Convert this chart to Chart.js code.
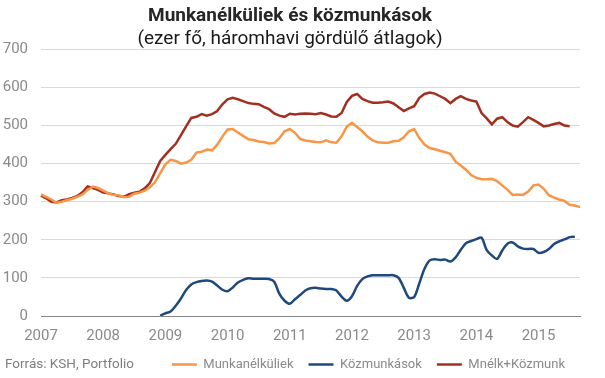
<!DOCTYPE html>
<html>
<head>
<meta charset="utf-8">
<script src="https://cdn.jsdelivr.net/npm/chart.js@4/dist/chart.umd.min.js"></script>
<style>
  html, body { margin: 0; padding: 0; background: #ffffff; }
  #wrap { width: 605px; height: 378px; position: relative; }
</style>
</head>
<body>
<div id="wrap"><canvas id="c" width="605" height="378"></canvas></div>
<script>
const titleText = 'Munkanélküliek és közmunkások';
const subtitleText = '(ezer fő, háromhavi gördülő átlagok)';
const sourceText = 'Forrás: KSH, Portfolio';

const years = ['2007', '2008', '2009', '2010', '2011', '2012', '2013', '2014', '2015'];
const monthsInLastYear = 9;

const seriesNames = ['Munkanélküliek', 'Közmunkások', 'Mnélk+Közmunk'];

const unemployed = [
  319, 313, 306, 297, 300, 304, 308, 313, 319, 331,
  340, 336, 329, 322, 318, 317, 312, 313, 321, 324,
  329, 338, 351, 375, 398, 410, 407, 400, 403, 410,
  429, 431, 437, 435, 450, 471, 490, 491, 482, 473,
  464, 462, 458, 457, 453, 454, 467, 485, 491, 481,
  465, 461, 459, 457, 456, 461, 456, 455, 472, 497,
  507, 496, 485, 471, 461, 456, 455, 455, 459, 460,
  469, 485, 491, 467, 450, 441, 438, 434, 430, 426,
  405, 395, 384, 370, 363, 359, 359, 360, 354, 343,
  332, 318, 319, 318, 327, 343, 345, 334, 317, 311,
  306, 302, 292, 290, 286
];

const publicWorkers = [
  null, null, null, null, null, null, null, null, null, null,
  null, null, null, null, null, null, null, null, null, null,
  null, null, null, 1, 7, 12, 27, 46, 68, 83,
  89, 92, 93, 90, 80, 69, 65, 75, 88, 95,
  99, 98, 98, 98, 97, 90, 58, 40, 32, 44,
  55, 67, 73, 74, 72, 71, 71, 67, 51, 40,
  52, 79, 97, 104, 107, 107, 107, 107, 107, 100,
  74, 48, 50, 86, 124, 146, 149, 147, 148, 143,
  154, 174, 191, 197, 202, 206, 173, 159, 150, 172,
  190, 193, 183, 177, 176, 176, 166, 168, 176, 189,
  196, 201, 207, 208, null
];

const combined = [
  316, 309, 300, 298, 304, 306, 310, 315, 325, 340,
  336, 331, 324, 322, 319, 315, 313, 320, 324, 326,
  335, 349, 378, 407, 423, 438, 452, 475, 498, 520,
  523, 530, 526, 530, 538, 556, 569, 573, 569, 564,
  559, 557, 556, 549, 543, 532, 526, 523, 531, 529,
  531, 532, 531, 530, 533, 529, 524, 523, 533, 562,
  578, 583, 570, 564, 560, 560, 561, 563, 558, 548,
  538, 545, 551, 573, 583, 587, 584, 577, 570, 559,
  570, 577, 570, 566, 563, 533, 519, 503, 518, 522,
  509, 500, 497, 509, 522, 515, 507, 498, 500, 504,
  507, 500, 498, null, null
];

const yMin = 0, yMax = 700, yStep = 100;

const colors = { unemployed: '#F79646', publicWorkers: '#1F497D', combined: '#A0301F' };

// monthly categories built from the year list
const months = [];
years.forEach((y, k) => {
  const n = k === years.length - 1 ? monthsInLastYear : 12;
  for (let m = 1; m <= n; m++) months.push(y + '-' + String(m).padStart(2, '0'));
});

Chart.defaults.font.family = 'Roboto';

const sourceNote = {
  id: 'sourceNote',
  afterDraw(chart) {
    const ctx = chart.ctx;
    const lg = chart.legend;
    ctx.save();
    ctx.font = '13.5px Roboto';
    ctx.fillStyle = '#7F7F7F';
    ctx.textAlign = 'left';
    ctx.textBaseline = 'middle';
    const y = lg ? lg.top + lg.options.labels.padding + 6.5 : 364;
    ctx.fillText(sourceText, 5, y);
    ctx.restore();
  }
};

new Chart(document.getElementById('c'), {
  type: 'line',
  data: {
    labels: months,
    datasets: [
      { label: seriesNames[0], data: unemployed, borderColor: colors.unemployed, backgroundColor: colors.unemployed,
        borderWidth: 2.5, pointRadius: 0, tension: 0 },
      { label: seriesNames[1], data: publicWorkers, borderColor: colors.publicWorkers, backgroundColor: colors.publicWorkers,
        borderWidth: 2.5, pointRadius: 0, tension: 0.3 },
      { label: seriesNames[2], data: combined, borderColor: colors.combined, backgroundColor: colors.combined,
        borderWidth: 2.5, pointRadius: 0, tension: 0 }
    ]
  },
  options: {
    responsive: false,
    animation: false,
    devicePixelRatio: 1,
    layout: { padding: { left: 0, right: 25, top: 0, bottom: -3 } },
    plugins: {
      title: {
        display: true, text: titleText, color: '#262626',
        font: { size: 19, weight: 'bold', lineHeight: 1.1 },
        padding: { top: 5.5, bottom: 0 }
      },
      subtitle: {
        display: true, text: subtitleText, color: '#1A1A1A',
        font: { size: 19, weight: 'normal', lineHeight: 1.1 },
        padding: { top: 2.1, bottom: 0 }
      },
      legend: {
        display: true, position: 'bottom', align: 'end',
        labels: {
          usePointStyle: true, pointStyle: 'line', pointStyleWidth: 25,
          padding: 15, color: '#8A8A8A', font: { size: 13 },
          sort: function (a, b) { return a.datasetIndex - b.datasetIndex; }
        }
      },
      tooltip: { enabled: false }
    },
    scales: {
      x: {
        type: 'category',
        grid: { display: false, drawTicks: false },
        border: { display: true, color: '#868686', width: 1 },
        ticks: {
          autoSkip: false, maxRotation: 0, minRotation: 0, padding: 11,
          color: '#8A8A8A', font: { size: 15 },
          callback: function (v, i) { const l = months[i]; return l.endsWith('-01') ? l.slice(0, 4) : ''; }
        },
        afterFit: function (s) { s.height = 27; }
      },
      y: {
        min: yMin, max: yMax,
        grid: {
          drawTicks: false,
          color: function (c) { return c.tick && c.tick.value === 0 ? 'rgba(0,0,0,0)' : '#D9D9D9'; },
          lineWidth: 1
        },
        border: { display: false },
        ticks: { stepSize: yStep, padding: 13, color: '#8A8A8A', font: { size: 15 } },
        afterFit: function (s) { s.width = 41; }
      }
    }
  },
  plugins: [sourceNote]
});
</script>
</body>
</html>
